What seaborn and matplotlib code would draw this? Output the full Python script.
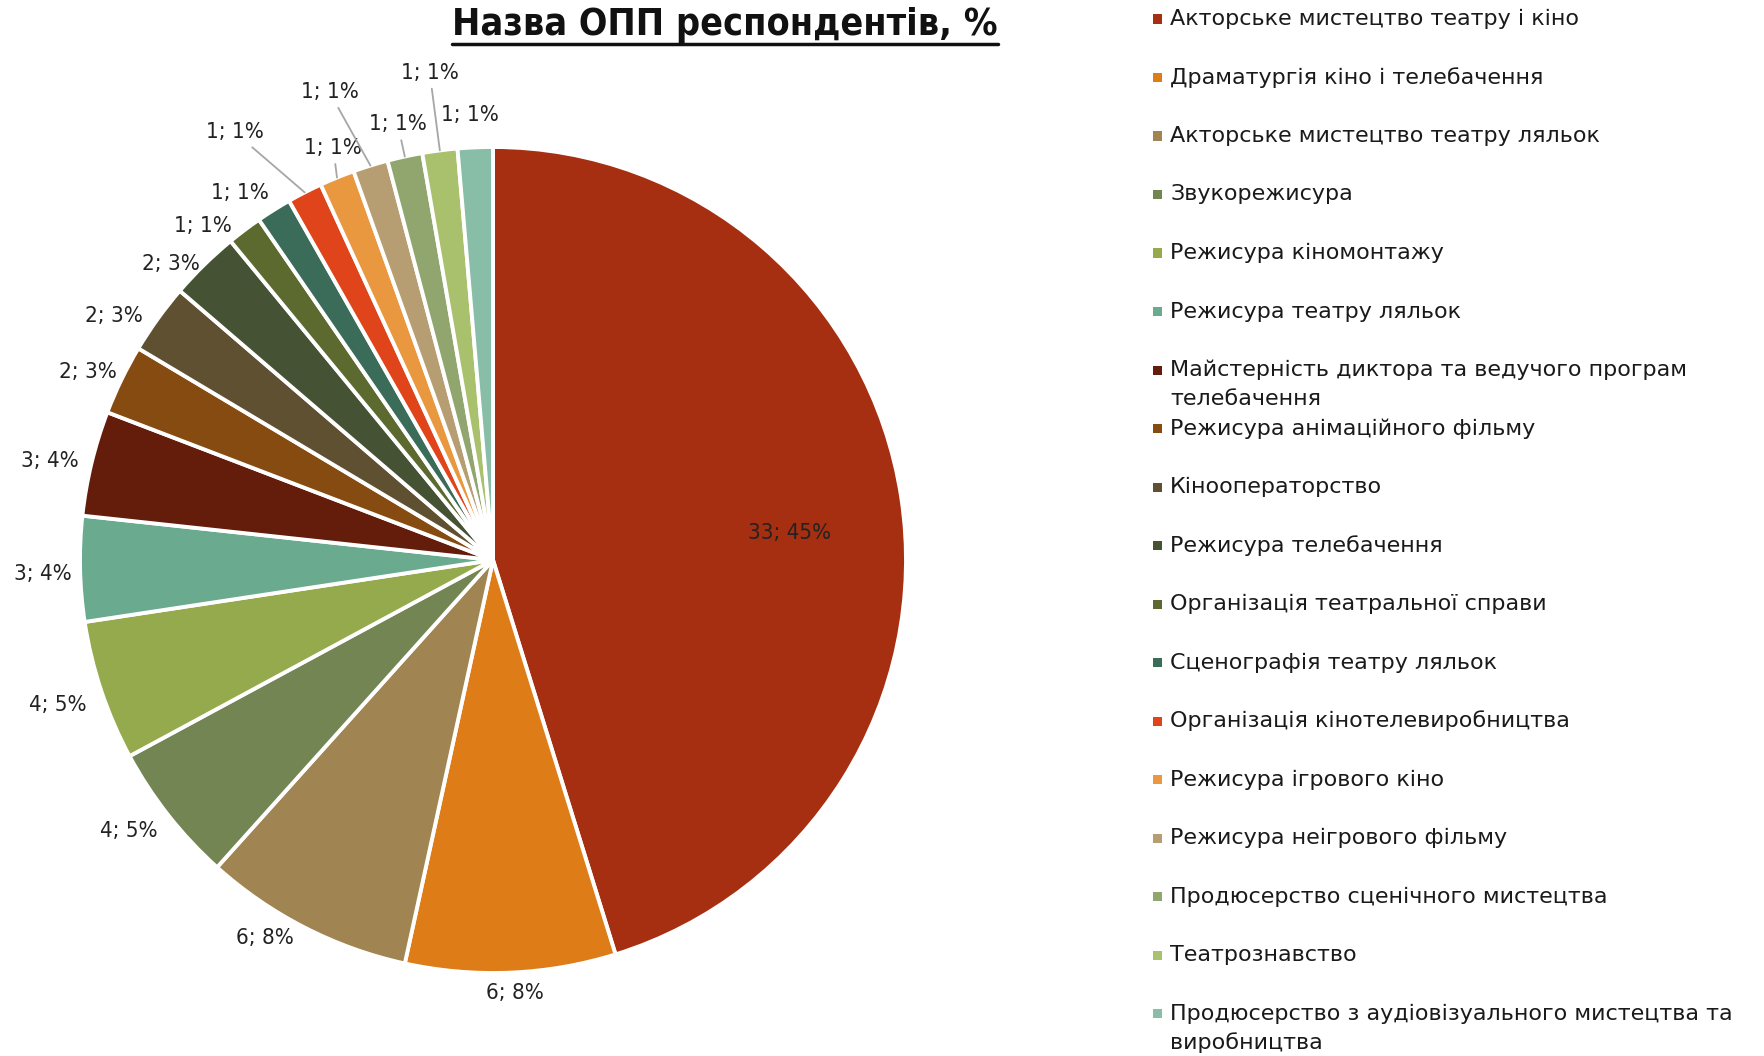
import matplotlib
matplotlib.use("Agg")
import matplotlib.pyplot as plt
import seaborn as sns
import numpy as np
from matplotlib import font_manager as fm

# ---------------- data ----------------
categories = [
    "Акторське мистецтво театру і кіно",
    "Драматургія кіно і телебачення",
    "Акторське мистецтво театру ляльок",
    "Звукорежисура",
    "Режисура кіномонтажу",
    "Режисура театру ляльок",
    "Майстерність диктора та ведучого програм\nтелебачення",
    "Режисура анімаційного фільму",
    "Кінооператорство",
    "Режисура телебачення",
    "Організація театральної справи",
    "Сценографія театру ляльок",
    "Організація кінотелевиробництва",
    "Режисура ігрового кіно",
    "Режисура неігрового фільму",
    "Продюсерство сценічного мистецтва",
    "Театрознавство",
    "Продюсерство з аудіовізуального мистецтва та\nвиробництва",
]
counts = [33, 6, 6, 4, 4, 3, 3, 2, 2, 2, 1, 1, 1, 1, 1, 1, 1, 1]
percents = [45, 8, 8, 5, 5, 4, 4, 3, 3, 3, 1, 1, 1, 1, 1, 1, 1, 1]
title = "Назва ОПП респондентів, %"

colors = ["#A52F10", "#DE7C18", "#A08452", "#738553", "#95A94D", "#6AAA8E",
          "#641C0B", "#864B10", "#5F5032", "#455234", "#5C6A30", "#3B6C59",
          "#E0441A", "#E99840", "#B69D72", "#91A66E", "#A9C06D", "#88BDA8"]

# label placement styling (radius factor, angle tweak in degrees, leader line)
label_r = [0.72, 1.05, 1.07, 1.10, 1.11, 1.09, 1.10, 1.08, 1.09, 1.06,
           1.07, 1.08, 1.21, 1.07, 1.20, 1.08, 1.19, 1.08]
label_da = [-3.5, 0.5, -4, -1.6, 0, 0.5, 1, 1, 3, 3, 4, 2.5, 4, -1, 2, 0, 0, 0.5]
leader = [False] * 12 + [True, True, True, True, True, False]

sns.set_theme(style="white")
plt.rcParams["font.family"] = ["DejaVu Sans"]

W, H = 1764, 1056
fig = plt.figure(figsize=(W / 100, H / 100), dpi=100)
fig.patch.set_facecolor("white")

# pie axes: centre (493, 560) px, radius 413 px
cx, cy, R = 493, 560, 413
a = 1.25
side = 2 * a * R
ax = fig.add_axes([(cx - side / 2) / W, ((H - cy) - side / 2) / H, side / W, side / H])
ax.set_xlim(-a, a)
ax.set_ylim(-a, a)
ax.axis("off")

wedges, _ = ax.pie(counts, colors=colors, startangle=90, counterclock=False,
                   radius=1.0, wedgeprops=dict(edgecolor="white", linewidth=2.8))

lbl_kw = dict(fontsize=16, fontstretch="condensed", color="#222222")
for i, w in enumerate(wedges):
    mdeg = (w.theta1 + w.theta2) / 2
    mid = np.deg2rad(mdeg + label_da[i])
    r = label_r[i]
    tx, ty = r * np.cos(mid), r * np.sin(mid)
    txt = f"{counts[i]}; {percents[i]}%"
    if leader[i]:
        ex, ey = np.cos(np.deg2rad(mdeg)), np.sin(np.deg2rad(mdeg))
        ax.annotate(txt, xy=(ex, ey), xytext=(tx, ty), ha="center", va="center",
                    arrowprops=dict(arrowstyle="-", color="#a6a6a6", lw=1.3,
                                    shrinkA=2, shrinkB=0),
                    annotation_clip=False, **lbl_kw)
    else:
        ax.text(tx, ty, txt, ha="center", va="center", clip_on=False, **lbl_kw)

# title (bold, underlined)
t = fig.text(725 / W, 1 - 25 / H, title, ha="center", va="center",
             fontsize=27, fontweight="bold", fontstretch="condensed", color="#111111")
fig.canvas.draw()
bb = t.get_window_extent(renderer=fig.canvas.get_renderer())
uy = bb.y0 - 1
fig.add_artist(plt.Line2D([bb.x0 / W, bb.x1 / W], [uy / H, uy / H],
                          transform=fig.transFigure, color="#111111", lw=2.5))

# legend (manual, fixed row pitch)
x_mark, x_text = 1157, 1170
y0, pitch = 19, 58.5
for i, (lab, col) in enumerate(zip(categories, colors)):
    y = y0 + i * pitch
    fig.patches.append(plt.Rectangle(((x_mark - 4.5) / W, 1 - (y + 4.5) / H), 9 / W, 9 / H,
                                     transform=fig.transFigure, facecolor=col,
                                     edgecolor="none"))
    for k, ln in enumerate(lab.split("\n")):
        fig.text(x_text / W, 1 - (y + k * 29) / H, ln, ha="left", va="center",
                 fontsize=16, color="#1a1a1a")

fig.savefig("out.png", dpi=100, facecolor="white")
